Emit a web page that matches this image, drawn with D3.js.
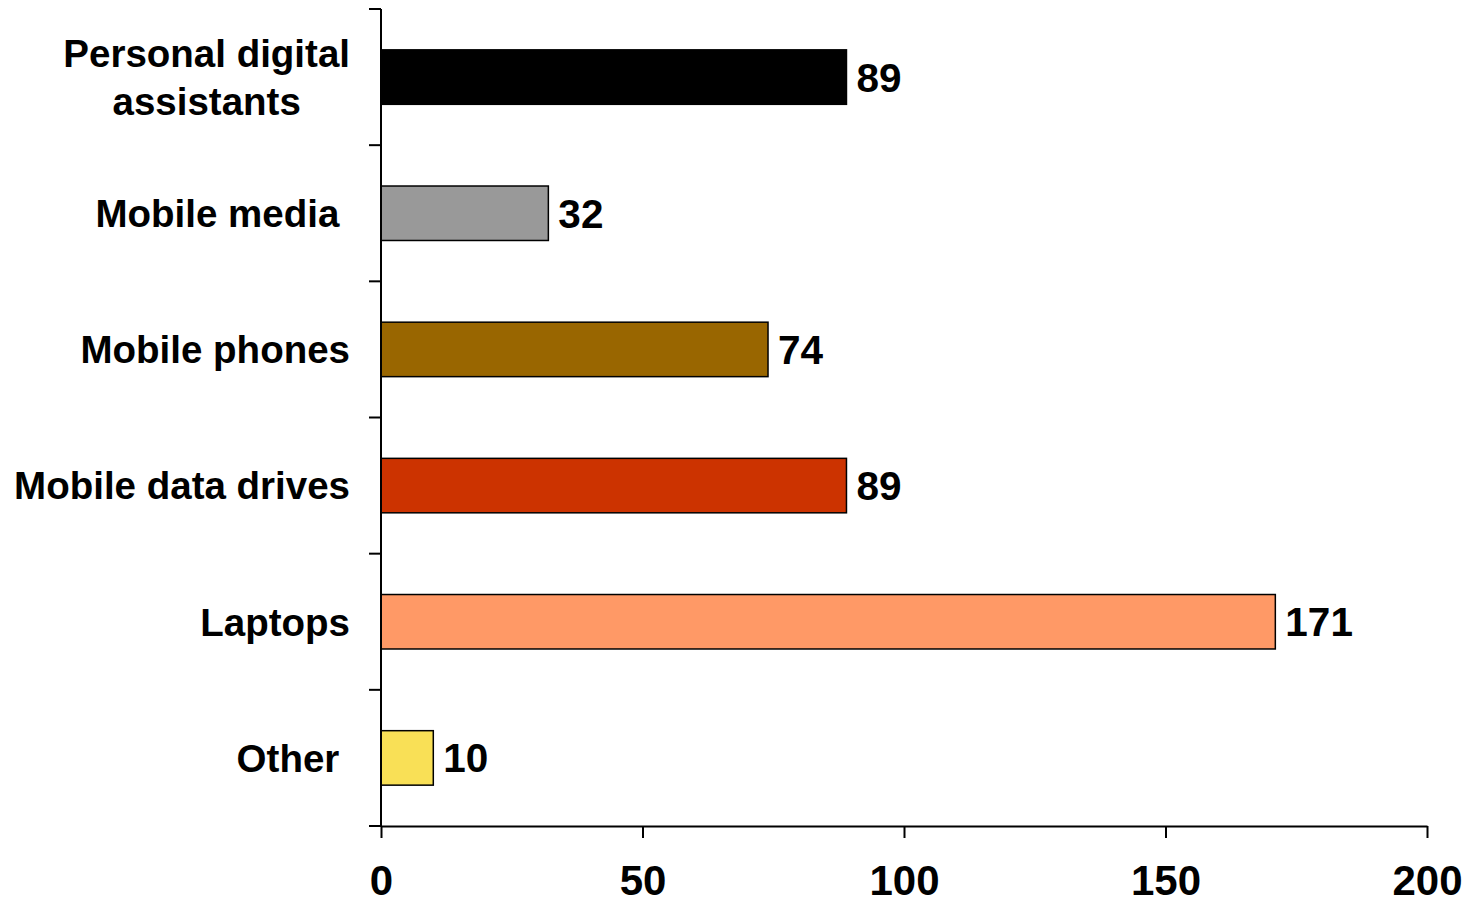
<!DOCTYPE html>
<html>
<head>
<meta charset="utf-8">
<script src="https://cdn.jsdelivr.net/npm/d3@7"></script>
<style>
  html, body { margin: 0; padding: 0; background: #fff; }
  svg { display: block; font-family: "Liberation Sans", Arial, Helvetica, sans-serif; font-weight: bold; }
</style>
</head>
<body>
<svg id="chart" width="1468" height="904"></svg>
<script>
const categories = [["Personal digital", "assistants"], ["Mobile media "], ["Mobile phones"], ["Mobile data drives"], ["Laptops"], ["Other "]];
const values = [89, 32, 74, 89, 171, 10];
const colors = ["#000000", "#999999", "#996600", "#CC3300", "#FF9966", "#F9E056"];
const xTicks = [0, 50, 100, 150, 200];

const svg = d3.select("#chart");
const x = d3.scaleLinear().domain([0, 200]).range([381, 1427]);
const y = d3.scaleBand().domain(d3.range(categories.length)).range([9, 826]).paddingInner(0.6).paddingOuter(0.3);

// bars
svg.selectAll("rect.bar").data(values).join("rect")
  .attr("class", "bar")
  .attr("x", x(0))
  .attr("y", (d, i) => y(i))
  .attr("width", d => x(d) - x(0))
  .attr("height", y.bandwidth())
  .attr("fill", (d, i) => colors[i])
  .attr("stroke", "#000")
  .attr("stroke-width", 1.5);

// value labels
svg.selectAll("text.val").data(values).join("text")
  .attr("class", "val")
  .attr("x", d => x(d) + 10)
  .attr("y", (d, i) => y(i) + y.bandwidth() / 2)
  .attr("dy", "0.36em")
  .attr("font-size", 40.5)
  .attr("fill", "#000")
  .text(d => d);

// y axis line + ticks at band boundaries
const yTop = 9, yBot = 826;
svg.append("line").attr("x1", x(0)).attr("x2", x(0)).attr("y1", yTop).attr("y2", yBot)
  .attr("stroke", "#000").attr("stroke-width", 2);
const bounds = d3.range(categories.length + 1).map(i => yTop + i * (yBot - yTop) / categories.length);
svg.selectAll("line.ytick").data(bounds).join("line")
  .attr("class", "ytick")
  .attr("x1", x(0) - 12).attr("x2", x(0))
  .attr("y1", d => d).attr("y2", d => d)
  .attr("stroke", "#000").attr("stroke-width", 2);

// x axis
const xAxis = d3.axisBottom(x).tickValues(xTicks).tickSize(12).tickSizeOuter(0).tickPadding(27);
const gx = svg.append("g").attr("transform", `translate(0,${yBot})`).call(xAxis);
gx.select(".domain").attr("stroke", "#000").attr("stroke-width", 2);
gx.selectAll(".tick line").attr("stroke", "#000").attr("stroke-width", 2);
gx.selectAll(".tick text").attr("font-size", 42).attr("font-family", "Liberation Sans, Arial, sans-serif")
  .attr("font-weight", "bold").attr("fill", "#000").attr("dy", "0.71em");

// category labels (right edge at 350, multi-line centered)
const labelRight = 350;
const lineH = 48;
categories.forEach((lines, i) => {
  const cy = y(i) + y.bandwidth() / 2;
  const t = svg.append("text")
    .attr("font-size", 38.5)
    .attr("fill", "#000")
    .style("white-space", "pre");
  const spans = lines.map((ln, j) => t.append("tspan")
    .attr("y", cy + (j - (lines.length - 1) / 2) * lineH)
    .attr("dy", "0.36em")
    .text(ln));
  if (lines.length === 1) {
    t.attr("text-anchor", "end");
    spans[0].attr("x", labelRight);
  } else {
    const maxW = d3.max(spans, s => s.node().getComputedTextLength());
    t.attr("text-anchor", "middle");
    spans.forEach(s => s.attr("x", labelRight - maxW / 2));
  }
});
</script>
</body>
</html>
